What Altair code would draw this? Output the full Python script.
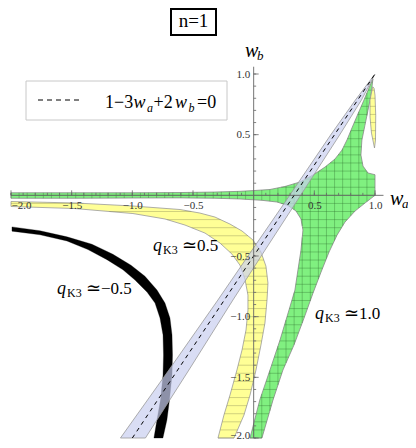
import altair as alt
import pandas as pd
import numpy as np

# ---------------- data ----------------
x_major = [-2.0, -1.5, -1.0, -0.5, 0.5, 1.0]
y_major = [-2.0, -1.5, -1.0, -0.5, 0.5, 1.0]
tick_minor = [round(-2.0 + 0.1 * i, 1) for i in range(31) if i != 20]

# green region (q_K3 ~ 1.0), polygon boundary
green_wa = [-2.0, -1.473, -0.995, -0.607, -0.319, -0.113, 0.011, 0.134, 0.258, 0.382,
            0.489, 0.588, 0.670, 0.728, 0.769, 0.810, 0.859, 0.909, 0.950, 0.983,
            0.967, 0.942, 0.917, 0.892, 0.884, 0.901, 0.942, 1.0, 1.0,
            0.917, 0.835, 0.752, 0.687, 0.621, 0.555, 0.489, 0.415, 0.332, 0.241, 0.159, 0.068,
            -0.030, 0.050, 0.134, 0.217, 0.291, 0.340, 0.365, 0.390, 0.406, 0.390, 0.349,
            0.283, 0.192, 0.068, -0.113, -0.319, -0.607, -0.995, -1.473, -2.0]
green_wb = [0.021, 0.021, 0.021, 0.023, 0.027, 0.033, 0.040, 0.048, 0.073, 0.110,
            0.167, 0.233, 0.299, 0.373, 0.456, 0.555, 0.670, 0.785, 0.884, 0.959,
            0.826, 0.700, 0.577, 0.456, 0.332, 0.241, 0.184, 0.170, 0.0,
            -0.064, -0.130, -0.221, -0.328, -0.468, -0.633, -0.806, -1.012, -1.234, -1.440, -1.688, -2.0,
            -2.0, -1.688, -1.441, -1.193, -0.946, -0.781, -0.616, -0.451, -0.286, -0.195, -0.129,
            -0.084, -0.055, -0.041, -0.030, -0.024, -0.021, -0.022, -0.024, -0.024]

# yellow region (q_K3 ~ 0.5)
yellow_wa = [-2.0, -1.473, -0.995, -0.607, -0.443, -0.319, -0.195, -0.096, -0.006, 0.060,
             0.101, 0.118, 0.110, 0.093, 0.060, 0.019, -0.030, -0.080, -0.162,
             -0.294, -0.245, -0.195, -0.138, -0.096, -0.063, -0.047, -0.047, -0.072, -0.113,
             -0.179, -0.278, -0.401, -0.566, -0.731, -0.995, -1.473, -2.0]
yellow_wb = [-0.051, -0.063, -0.088, -0.117, -0.146, -0.179, -0.237, -0.294, -0.368, -0.467,
             -0.583, -0.723, -0.863, -1.052, -1.234, -1.440, -1.646, -1.811, -2.0,
             -2.0, -1.811, -1.646, -1.440, -1.275, -1.110, -0.946, -0.822, -0.690, -0.575,
             -0.484, -0.393, -0.311, -0.245, -0.195, -0.150, -0.109, -0.092]
yellow2_wa = [0.981, 0.959, 0.959, 0.971, 0.996, 1.004, 1.006, 1.0, 0.992]
yellow2_wb = [0.895, 0.785, 0.645, 0.513, 0.390, 0.456, 0.661, 0.826, 0.884]

# black band (q_K3 ~ -0.5)
black_wa = [-1.992, -1.761, -1.539, -1.333, -1.160, -1.011, -0.896, -0.797, -0.731, -0.690,
            -0.673, -0.669, -0.673, -0.694, -0.715, -0.748,
            -0.822, -0.797, -0.768, -0.747, -0.743, -0.747, -0.772, -0.813, -0.879, -0.978,
            -1.077, -1.209, -1.366, -1.539, -1.761, -1.992]
black_wb = [-0.260, -0.292, -0.342, -0.403, -0.486, -0.576, -0.667, -0.780, -0.888, -1.011,
            -1.151, -1.316, -1.481, -1.687, -1.852, -2.0,
            -2.0, -1.852, -1.687, -1.481, -1.316, -1.151, -1.011, -0.888, -0.797, -0.698,
            -0.614, -0.530, -0.447, -0.376, -0.325, -0.295]

# band around 1-3wa+2wb=0
band_wb = [-2.0, -1.44, -0.863, -0.451, 0.0, 0.497, 0.785, 1.0]
band_left = [-1.098, -0.699, -0.295, -0.013, 0.297, 0.634, 0.838, 1.0]
band_right = [-0.892, -0.534, -0.171, 0.094, 0.387, 0.708, 0.888, 1.0]

line_wa = [-1.0, 1.0]
line_wb = [-2.0, 1.0]

# ---------------- chart ----------------
W = H = 364
SERIF = "Liberation Serif"
XS = alt.Scale(domain=[-2, 1], nice=False, zero=False)
YS = alt.Scale(domain=[-2, 1], nice=False, zero=False)
AX = alt.Axis(values=x_major, format=".1f", orient="bottom", offset=-242.67, domain=False,
              ticks=False, tickSize=0, grid=False, labelFont=SERIF, labelFontSize=11,
              labelColor="#333", labelPadding=4, labelFlush=False, labelOverlap=False,
              labelBound=False, title=None, zindex=1,
              labelAlign={"condition": {"test": "datum.value < -1.99", "value": "left"},
                          "value": "center"})
AY = alt.Axis(values=y_major, format=".1f", orient="left", offset=-242.67, domain=False,
              ticks=False, tickSize=0, grid=False, labelFont=SERIF, labelFontSize=11,
              labelColor="#333", labelPadding=4, labelFlush=False, labelOverlap=False,
              labelBound=False, title=None, zindex=1,
              labelBaseline={"condition": {"test": "datum.value < -1.99", "value": "alphabetic"},
                             "value": "middle"})


def X(f):
    return alt.X(f, scale=XS, axis=AX)


def Y(f):
    return alt.Y(f, scale=YS, axis=AY)


def poly_layer(wa, wb, fill, stroke, sw, fill_opacity=1.0):
    df = pd.DataFrame({"wa": wa, "wb": wb, "i": range(len(wa))})
    return alt.Chart(df).mark_line(
        interpolate="linear-closed", fill=fill, fillOpacity=fill_opacity,
        stroke=stroke, strokeWidth=sw, strokeJoin="round"
    ).encode(x=X("wa:Q"), y=Y("wb:Q"), order=alt.Order("i:Q"))


def scan(wa, wb, step, horizontal=True):
    a = np.array(wb if horizontal else wa, dtype=float)
    b = np.array(wa if horizontal else wb, dtype=float)
    n = len(a)
    segs = []
    for k in range(int(np.ceil(a.min() / step - 1e-9)), int(np.floor(a.max() / step + 1e-9)) + 1):
        c = k * step
        cuts = []
        for j in range(n):
            a1, a2 = a[j], a[(j + 1) % n]
            b1, b2 = b[j], b[(j + 1) % n]
            if (a1 <= c < a2) or (a2 <= c < a1):
                t = (c - a1) / (a2 - a1)
                cuts.append(b1 + t * (b2 - b1))
        cuts.sort()
        for p, q in zip(cuts[0::2], cuts[1::2]):
            segs.append((p, q, c))
    return pd.DataFrame(segs, columns=["p", "q", "c"])


def hatch_layer(df, horizontal, color, opacity, sw=0.7):
    m = alt.Chart(df).mark_rule(color=color, opacity=opacity, strokeWidth=sw)
    if horizontal:
        return m.encode(x=X("p:Q"), x2="q:Q", y=Y("c:Q"))
    return m.encode(y=Y("p:Q"), y2="q:Q", x=X("c:Q"))


STEP = 1.0 / 15
layers = []
layers.append(poly_layer(green_wa, green_wb, "#80f080", "#888888", 0.8))
layers.append(hatch_layer(scan(green_wa, green_wb, STEP, True), True, "#2f6f2f", 0.5))
layers.append(hatch_layer(scan(green_wa, green_wb, STEP, False), False, "#2f6f2f", 0.5))
layers.append(poly_layer(yellow_wa, yellow_wb, "#ffff96", "#999999", 0.8))
layers.append(poly_layer(yellow2_wa, yellow2_wb, "#ffff96", "#999999", 0.8))
layers.append(hatch_layer(scan(yellow_wa, yellow_wb, STEP, True), True, "#7a7a50", 0.5))
layers.append(hatch_layer(scan(yellow2_wa, yellow2_wb, STEP, True), True, "#7a7a50", 0.5))
layers.append(poly_layer(black_wa, black_wb, "#000000", "#000000", 0.3))
layers.append(poly_layer(band_left + band_right[::-1], band_wb + band_wb[::-1],
                         "#c9cff0", "#999999", 0.8, fill_opacity=0.7))
layers.append(alt.Chart(pd.DataFrame({"wa": line_wa, "wb": line_wb})).mark_line(
    color="black", strokeWidth=1, strokeDash=[4, 4]).encode(x=X("wa:Q"), y=Y("wb:Q")))

# axes lines and ticks
layers.append(alt.Chart(pd.DataFrame({"a": [-2.0], "b": [1.07], "z": [0.0]})).mark_rule(
    color="#666", strokeWidth=0.9).encode(x=X("a:Q"), x2="b:Q", y=Y("z:Q")))
layers.append(alt.Chart(pd.DataFrame({"a": [-2.0], "b": [1.06], "z": [0.0]})).mark_rule(
    color="#666", strokeWidth=0.9).encode(y=Y("a:Q"), y2="b:Q", x=X("z:Q")))
for vals, ln in ((tick_minor, 2.5 / 121.33), (x_major, 5.0 / 121.33)):
    d = pd.DataFrame({"t": vals, "z": 0.0, "l": ln})
    layers.append(alt.Chart(d).mark_rule(color="#666", strokeWidth=0.8).encode(
        x=X("t:Q"), y=Y("z:Q"), y2="l:Q"))
    layers.append(alt.Chart(d).mark_rule(color="#666", strokeWidth=0.8).encode(
        y=Y("t:Q"), x=X("z:Q"), x2="l:Q"))

ONE = pd.DataFrame({"k": [0]})


def txt(s, x, y, size, style="normal", align="left", color="black", font=SERIF):
    return alt.Chart(ONE).mark_text(
        text=s, align=align, baseline="alphabetic", fontSize=size, fontStyle=style,
        font=font, color=color).encode(x=alt.value(x), y=alt.value(y))


def box(x1, x2, y1, y2, stroke, sw, fill="white"):
    return alt.Chart(ONE).mark_rect(fill=fill, stroke=stroke, strokeWidth=sw).encode(
        x=alt.value(x1), x2=alt.value(x2), y=alt.value(y1), y2=alt.value(y2))


# title box
layers.append(box(160, 205, -65, -39, "black", 2))
layers.append(txt("n=1", 182.5, -47, 19, align="center"))

# legend
layers.append(box(15, 216, 7, 46, "#c8c8c8", 1))
layers.append(alt.Chart(ONE).mark_rule(color="black", strokeWidth=1, strokeDash=[5, 4]).encode(
    x=alt.value(27), x2=alt.value(72), y=alt.value(26)))
for s, x, y, size, st in [("1\u22123", 94, 34, 18, "normal"), ("w", 122.5, 34, 18, "italic"),
                          ("a", 136, 38, 12, "italic"), ("+2", 142.5, 34, 18, "normal"),
                          ("w", 164, 34, 18, "italic"), ("b", 177.5, 38, 12, "italic"),
                          ("=0", 186, 34, 18, "normal")]:
    layers.append(txt(s, x, y, size, st))

# axis titles
layers.append(txt("w", 234, -17, 20, "italic"))
layers.append(txt("b", 246, -14, 13, "italic"))
layers.append(txt("w", 379, 131, 20, "italic"))
layers.append(txt("a", 391, 134, 13, "italic"))

# region labels
for (qx, qy, val) in [(142, 177, "0.5"), (46, 220, "\u22120.5"), (304, 245, "1.0")]:
    layers.append(txt("q", qx, qy, 18, "italic"))
    layers.append(txt("K3", qx + 10, qy + 3, 12))
    layers.append(txt("\u2243", qx + 29, qy, 18, font="DejaVu Serif"))
    layers.append(txt(val, qx + 44, qy, 17))

chart = alt.layer(*layers).properties(
    width=W, height=H,
    padding={"left": 3, "top": 66, "right": 33, "bottom": 2},
    autosize=alt.AutoSizeParams(type="none"),
).configure_view(stroke=None)

chart.save("out.html", embed_options={"renderer": "svg", "actions": False})
